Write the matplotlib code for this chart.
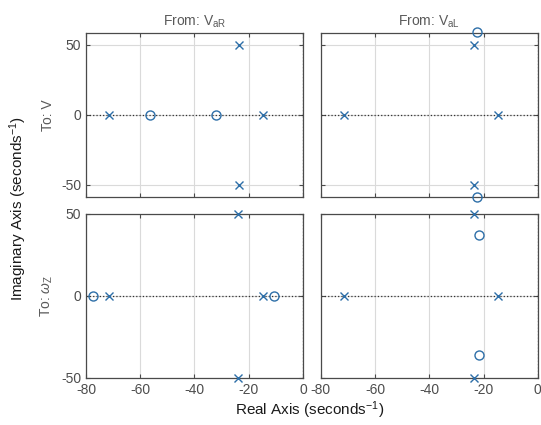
import numpy as np
import matplotlib
matplotlib.use("Agg")
import matplotlib.pyplot as plt

#Style
matplotlib.rcParams.update({
    "font.family":      ["Liberation Sans", "DejaVu Sans"],
    "font.size":        9,
    "mathtext.fontset": "custom",
    "mathtext.rm":      "Liberation Sans",
    "mathtext.it":      "Liberation Sans:italic",
    "axes.unicode_minus": False,
    "xtick.direction":  "in",
    "ytick.direction":  "in",
    "xtick.color":      "#4a4a4a",
    "ytick.color":      "#4a4a4a",
    "xtick.labelcolor": "#4d4d4d",
    "ytick.labelcolor": "#4d4d4d",
    "xtick.major.size": 3,
    "ytick.major.size": 3,
    "axes.edgecolor":   "#4a4a4a",
    "axes.linewidth":   0.9,
})

BLUE = "#2e6fa8"
GRAY_TXT = "#5a5a5a"

# data: poles (x) and zeros (o) per input/output channel
INPUTS  = [r"From: V$_{\rm aR}$", r"From: V$_{\rm aL}$"]
OUTPUTS = ["To: V", r"To: $\omega_{\rm Z}$"]

# row 0: To V
poles_re_00 = [-71.5, -23.5, -23.5, -14.8]
poles_im_00 = [0, 50, -50, 0]
zeros_re_00 = [-56.4, -32.0]
zeros_im_00 = [0, 0]

poles_re_01 = [-71.4, -23.4, -23.4, -14.6]
poles_im_01 = [0, 50, -50, 0]
zeros_re_01 = [-22.5, -22.5]
zeros_im_01 = [59.0, -58.5]

# row 1: To omega_Z
poles_re_10 = [-71.5, -23.8, -23.8, -14.7]
poles_im_10 = [0, 50, -50, 0]
zeros_re_10 = [-77.3, -10.6]
zeros_im_10 = [0, 0]

poles_re_11 = [-71.4, -23.4, -23.4, -14.6]
poles_im_11 = [0, 50, -50, 0]
zeros_re_11 = [-21.7, -21.7]
zeros_im_11 = [36.8, -36.3]

PANELS = {
    (0, 0): (poles_re_00, poles_im_00, zeros_re_00, zeros_im_00),
    (0, 1): (poles_re_01, poles_im_01, zeros_re_01, zeros_im_01),
    (1, 0): (poles_re_10, poles_im_10, zeros_re_10, zeros_im_10),
    (1, 1): (poles_re_11, poles_im_11, zeros_re_11, zeros_im_11),
}
YLIMS = [(-58.6, 58.6), (-50, 50)]
X_TICKS = [-80, -60, -40, -20, 0]
Y_TICKS = [-50, 0, 50]

fig = plt.figure(figsize=(5.41, 4.25), dpi=100)

lefts = [0.159, 0.593]
bottoms = [0.5365, 0.111]
width, height = 0.401, 0.386

for (r, c), (pr, pi, zr, zi) in PANELS.items():
    ax = fig.add_axes([lefts[c], bottoms[r], width, height])
    ax.set_xlim(-80, 0)
    ax.set_ylim(*YLIMS[r])
    ax.set_xticks(X_TICKS)
    ax.set_yticks(Y_TICKS)
    ax.grid(True, color="#dadada", linewidth=0.8)
    ax.set_axisbelow(True)
    ax.axhline(0, color="#333333", linestyle=":", linewidth=0.9, zorder=1)
    ax.axvline(0, color="#333333", linestyle=":", linewidth=0.9, zorder=1)
    ax.plot(pr, pi, "x", color=BLUE, markersize=6, markeredgewidth=1.0,
            clip_on=False, zorder=3)
    ax.plot(zr, zi, "o", color=BLUE, markersize=6.5, markeredgewidth=1.0,
            markerfacecolor="none", clip_on=False, zorder=3)
    ax.tick_params(top=True, right=True, labelsize=10)
    if r == 0:
        ax.set_xticklabels([])
        ax.set_title(INPUTS[c], color=GRAY_TXT, fontsize=10, pad=5)
    if c == 1:
        ax.set_yticklabels([])
    else:
        ax.set_ylabel(OUTPUTS[r], color=GRAY_TXT, fontsize=10, labelpad=4)

fig.text(0.033, 0.51, r"Imaginary Axis (seconds$^{-1}$)", rotation=90,
         ha="center", va="center", fontsize=11, color="#1a1a1a")
fig.text(0.573, 0.035, r"Real Axis (seconds$^{-1}$)",
         ha="center", va="center", fontsize=11, color="#1a1a1a")

fig.savefig("out.png", dpi=100)
